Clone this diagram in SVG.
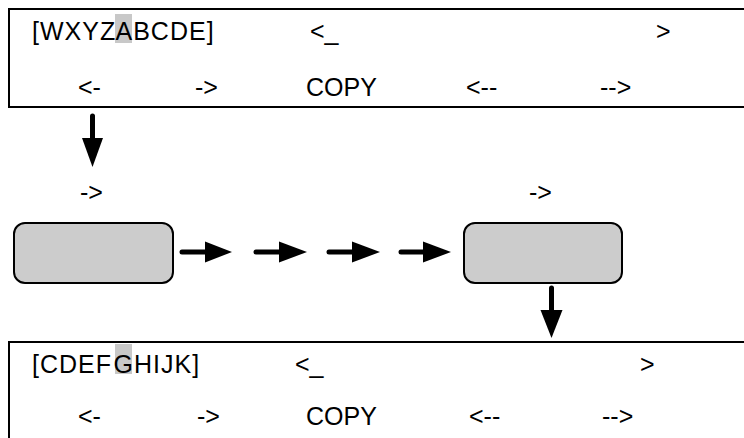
<svg xmlns="http://www.w3.org/2000/svg" width="744" height="438" viewBox="0 0 744 438">
<style>
.t{font-family:"Liberation Sans",Arial,sans-serif;font-size:25px;fill:#000}
.sp{letter-spacing:1px}
.scr{fill:#fff;stroke:#000;stroke-width:2}
.hl{fill:#c8c8c8}
.box{fill:#cccccc;stroke:#000;stroke-width:2}
.sh{stroke:#000;stroke-width:5;stroke-linecap:round;fill:none}
.hd{fill:#000}
</style>
<rect width="744" height="438" fill="#fff"/>
<g id="screen-top">
<rect class="scr" x="9" y="9" width="745" height="98"/>
<rect class="hl" x="115" y="14" width="17" height="29"/>
<text class="t sp" x="32" y="40">[WXYZ<tspan x="115.5">A</tspan>BCDE]</text>
<text class="t" x="310" y="40">&lt;_</text>
<text class="t" x="656" y="40">&gt;</text>
<text class="t" x="78" y="96">&lt;-</text>
<text class="t" x="195" y="96">-&gt;</text>
<text class="t" x="306" y="96">COPY</text>
<text class="t" x="466" y="96">&lt;--</text>
<text class="t" x="600" y="96">--&gt;</text>
</g>
<g id="box-left">
<rect class="box" x="14" y="223" width="159" height="60" rx="11"/>
<text class="t" x="80" y="201">-&gt;</text>
</g>
<g id="box-right">
<rect class="box" x="464" y="223" width="158" height="60" rx="11"/>
<text class="t" x="529" y="201">-&gt;</text>
</g>
<g id="screen-bottom">
<rect class="scr" x="9" y="342" width="745" height="110"/>
<rect class="hl" x="115" y="344" width="17" height="30"/>
<text class="t sp" x="32" y="373">[CDEF<tspan x="113.5">G</tspan>HIJK]</text>
<text class="t" x="295" y="373">&lt;_</text>
<text class="t" x="640" y="373">&gt;</text>
<text class="t" x="78" y="425">&lt;-</text>
<text class="t" x="197" y="425">-&gt;</text>
<text class="t" x="306" y="425">COPY</text>
<text class="t" x="469" y="425">&lt;--</text>
<text class="t" x="602" y="425">--&gt;</text>
</g>
<g id="connectors">
<line class="sh" x1="92.5" y1="116" x2="92.5" y2="140"/>
<polygon class="hd" points="82,138 103,138 92.5,167"/>
<line class="sh" x1="182" y1="252" x2="208" y2="252"/>
<polygon class="hd" points="205,241.5 205,262.5 232,252"/>
<line class="sh" x1="256" y1="252" x2="282" y2="252"/>
<polygon class="hd" points="279,241.5 279,262.5 307,252"/>
<line class="sh" x1="329" y1="252" x2="355" y2="252"/>
<polygon class="hd" points="352,241.5 352,262.5 380,252"/>
<line class="sh" x1="401" y1="252" x2="426" y2="252"/>
<polygon class="hd" points="423,241.5 423,262.5 451,252"/>
<line class="sh" x1="551.5" y1="288" x2="551.5" y2="312"/>
<polygon class="hd" points="540.5,310 562.5,310 551.5,338"/>
</g>
</svg>
